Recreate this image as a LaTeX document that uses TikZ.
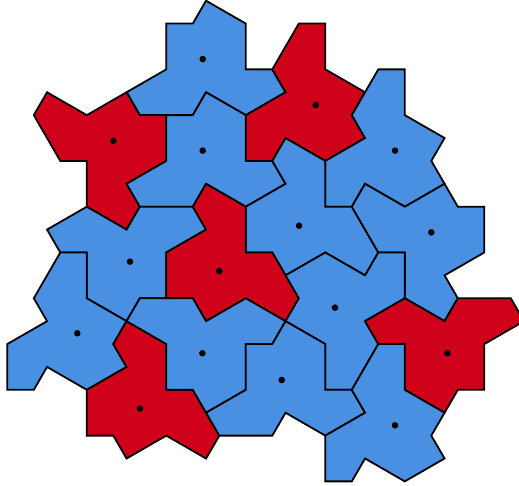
\documentclass[tikz,border=0pt]{standalone}
\definecolor{tileblue}{RGB}{74,144,226}
\definecolor{tilered}{RGB}{208,2,27}
\begin{document}
\begin{tikzpicture}[x=13.25pt,y=-22.89pt,
  bluetile/.style={fill=tileblue,draw=black,line width=1.8pt,line join=miter},
  redtile/.style={fill=tilered,draw=black,line width=1.8pt,line join=miter},
  centredot/.style={fill=black}]
\useasboundingbox (-0.551,-0.0306) rectangle (38.619,21.20);
\clip (-0.551,-0.0306) rectangle (38.619,21.20);
% A
\draw[bluetile] (15,0)--(18,1)--(18,3)--(20,3)--(21,4)--(18,5)--(15,4)--(14,5)--(10,5)--(9,4)--(12,3)--(12,1)--(14,1)--cycle;
% B
\draw[redtile] (22,1)--(24,1)--(24,3)--(27,4)--(26,5)--(27,6)--(24,7)--(21,6)--(20,7)--(18,7)--(18,5)--(21,4)--(20,3)--cycle;
% C
\draw[redtile] (3,4)--(6,5)--(9,4)--(10,5)--(12,5)--(12,7)--(9,8)--(10,9)--(9,10)--(6,9)--(6,7)--(4,7)--(2,5)--cycle;
% D
\draw[bluetile] (15,4)--(18,5)--(18,7)--(20,7)--(21,8)--(18,9)--(15,8)--(14,9)--(10,9)--(9,8)--(12,7)--(12,5)--(14,5)--cycle;
% E
\draw[bluetile] (28,3)--(30,3)--(30,5)--(33,6)--(32,7)--(33,8)--(30,9)--(27,8)--(26,9)--(24,9)--(24,7)--(27,6)--(26,5)--cycle;
% F
\draw[bluetile] (18,9)--(21,8)--(20,7)--(21,6)--(24,7)--(24,9)--(26,9)--(28,11)--(27,12)--(24,11)--(21,12)--(20,11)--(18,11)--cycle;
% G
\draw[bluetile] (28,11)--(26,9)--(27,8)--(30,9)--(33,8)--(34,9)--(36,9)--(36,11)--(33,12)--(34,13)--(33,14)--(30,13)--(30,11)--cycle;
% H
\draw[bluetile] (6,9)--(9,10)--(10,9)--(14,9)--(15,10)--(12,11)--(12,13)--(10,13)--(9,14)--(6,13)--(6,11)--(4,11)--(3,10)--cycle;
% I
\draw[redtile] (14,9)--(15,10)--(12,11)--(12,13)--(14,13)--(15,14)--(18,13)--(21,14)--(22,13)--(20,11)--(18,11)--(18,9)--(15,8)--cycle;
% J
\draw[bluetile] (21,12)--(24,11)--(27,12)--(28,11)--(30,11)--(30,13)--(27,14)--(28,15)--(26,17)--(24,17)--(24,15)--(21,14)--(22,13)--cycle;
% K
\draw[bluetile] (4,11)--(6,11)--(6,13)--(9,14)--(8,15)--(9,16)--(6,17)--(3,16)--(2,17)--(0,17)--(0,15)--(3,14)--(2,13)--cycle;
% M
\draw[redtile] (9,14)--(12,15)--(12,17)--(14,17)--(16,19)--(15,20)--(12,19)--(9,20)--(8,19)--(6,19)--(6,17)--(9,16)--(8,15)--cycle;
% N
\draw[bluetile] (10,13)--(14,13)--(15,14)--(18,13)--(21,14)--(20,15)--(18,15)--(18,17)--(15,18)--(14,17)--(12,17)--(12,15)--(9,14)--cycle;
% O
\draw[bluetile] (18,15)--(20,15)--(21,14)--(24,15)--(24,17)--(26,17)--(27,18)--(24,19)--(21,18)--(20,19)--(16,19)--(15,18)--(18,17)--cycle;
% P
\draw[redtile] (30,13)--(33,14)--(34,13)--(38,13)--(39,14)--(36,15)--(36,17)--(34,17)--(33,18)--(30,17)--(30,15)--(28,15)--(27,14)--cycle;
% Q
\draw[bluetile] (28,15)--(30,15)--(30,17)--(33,18)--(32,19)--(33,20)--(30,21)--(27,20)--(26,21)--(24,21)--(24,19)--(27,18)--(26,17)--cycle;
% centre dots
\foreach \p in {(14.75,2.55),(23.28,4.56),(8.0,6.12),(14.75,6.55),(29.26,6.55),(22.02,9.83),(32.0,10.12),(9.26,11.40),(16.0,11.81),(24.73,13.41),(5.28,14.53),(10.02,17.82),(14.72,15.40),(20.71,16.57),(33.21,15.40),(29.26,18.55)}
  \fill[centredot] \p circle (3.3pt);
\end{tikzpicture}
\end{document}
